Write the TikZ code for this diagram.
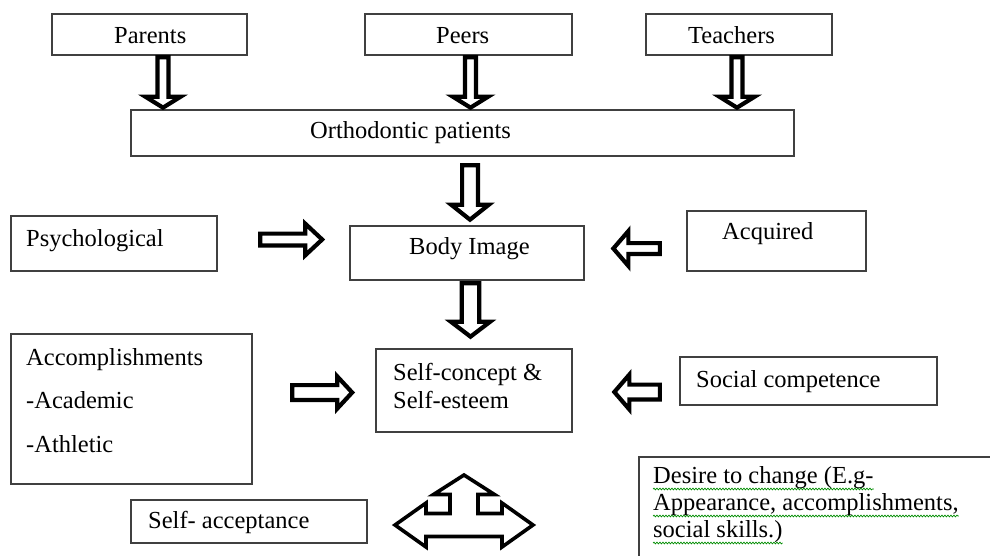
\documentclass[tikz,border=0pt]{standalone}
\usepackage{fontspec}
\setmainfont{Liberation Serif}
\usetikzlibrary{decorations.pathmorphing}

\tikzset{
	box/.style={draw=black!75,line width=1.3pt,rectangle,inner sep=0pt},
	txt/.style={inner sep=0pt,anchor=base west,font=\fontsize{24.5}{28}\selectfont},
	blockline/.style={draw=black,line width=4.2pt,line join=miter,fill=white},
	squiggle/.style={draw=green!55!black,line width=0.7pt,decorate,
		decoration={snake,amplitude=0.9pt,segment length=3pt}}
}

% tail, angle, length, head length, head half width, shaft half width
\newcommand{\blockarrow}[6]{%
	\draw[blockline,shift={#1},rotate=#2]
		(0,-#6) -- ({#3-#4},-#6) -- ({#3-#4},-#5) -- (#3,0)
		-- ({#3-#4},#5) -- ({#3-#4},#6) -- (0,#6) -- cycle;}

\begin{document}
\begin{tikzpicture}[x=1pt,y=-1pt]
\path[use as bounding box] (0,0) rectangle (990,555);
\clip (0,0) rectangle (990,555);

\foreach \n/\cx/\cy/\w/\h in{
	parents/149.5/34.5/195/41,
	peers/468.5/34.5/207/41,
	teachers/739/34.5/186/41,
	ortho/462.5/133/663/46,
	psych/114/243.5/206/55,
	body/467/253/234/54,
	acq/776.5/241/179/60,
	accomp/131.5/409/241/150,
	self/474/390.5/196/83,
	social/808.5/381/257/48,
	accept/249/521.5/236/43,
	desire/839/517/400/120
}
{
	\node[box,minimum width=\w pt,minimum height=\h pt] (\n) at (\cx,\cy) {};
}

\foreach \n/\x/\y/\t in{
	tparents/114/43/Parents,
	tpeers/436/43/Peers,
	tteachers/688/43/Teachers,
	tortho/310/138/Orthodontic patients,
	tpsych/26/246/Psychological,
	tbody/409/254/Body Image,
	tacq/722/239/Acquired,
	taccomp1/26/365/Accomplishments,
	taccomp2/26/408/-Academic,
	taccomp3/26/452/-Athletic,
	tself1/393/380/Self-concept \&,
	tself2/393/408/Self-esteem,
	tsocial/696/387/Social competence,
	taccept/148/528/Self- acceptance,
	tdesire1/653/483/Desire to change (E.g-,
	tdesire2/653/510/{Appearance, accomplishments,},
	tdesire3/653/537/social skills.)
}
{
	\node[txt] (\n) at (\x,\y) {\t};
}
\foreach \n in {tdesire1,tdesire2,tdesire3}
	\draw[squiggle] ([shift={(0,6)}]\n.base west) -- ([shift={(0,6)}]\n.base east);

\blockarrow{([shift={(13.5,1.5)}]parents.south)}{-90}{50.5}{11}{17.7}{5.5}
\blockarrow{([shift={(2,1.5)}]peers.south)}{-90}{50.5}{11}{17.7}{5.5}
\blockarrow{([shift={(-2,1.5)}]teachers.south)}{-90}{50.5}{11}{17.7}{5.5}
\blockarrow{([shift={(7.5,8.5)}]ortho.south)}{-90}{54.5}{15}{18.9}{7.9}
\blockarrow{([shift={(3.5,2.5)}]body.south)}{-90}{53.5}{15}{19.7}{8.7}
\blockarrow{([shift={(42.5,-4)}]psych.east)}{0}{62}{17}{15.9}{5.9}
\blockarrow{([shift={(-26.5,7.5)}]acq.west)}{180}{46.5}{15}{17.4}{5.4}
\blockarrow{([shift={(39.5,-16.5)}]accomp.east)}{0}{60}{15}{16.2}{7.4}
\blockarrow{([shift={(-19.5,11)}]social.west)}{180}{45.5}{15}{17.4}{7.4}

% three way arrow
\draw[blockline,line width=3.6pt,shift={(464,525)}]
	(-69,0) -- (-38,-22) -- (-38,-11.5) -- (-14,-11.5) -- (-14,-30.5) -- (-30.5,-30.5)
	-- (0,-50) -- (30.5,-30.5) -- (14,-30.5) -- (14,-11.5) -- (38,-11.5) -- (38,-22)
	-- (69,0) -- (38,22) -- (38,11.5) -- (-38,11.5) -- (-38,22) -- cycle;
\end{tikzpicture}
\end{document}
